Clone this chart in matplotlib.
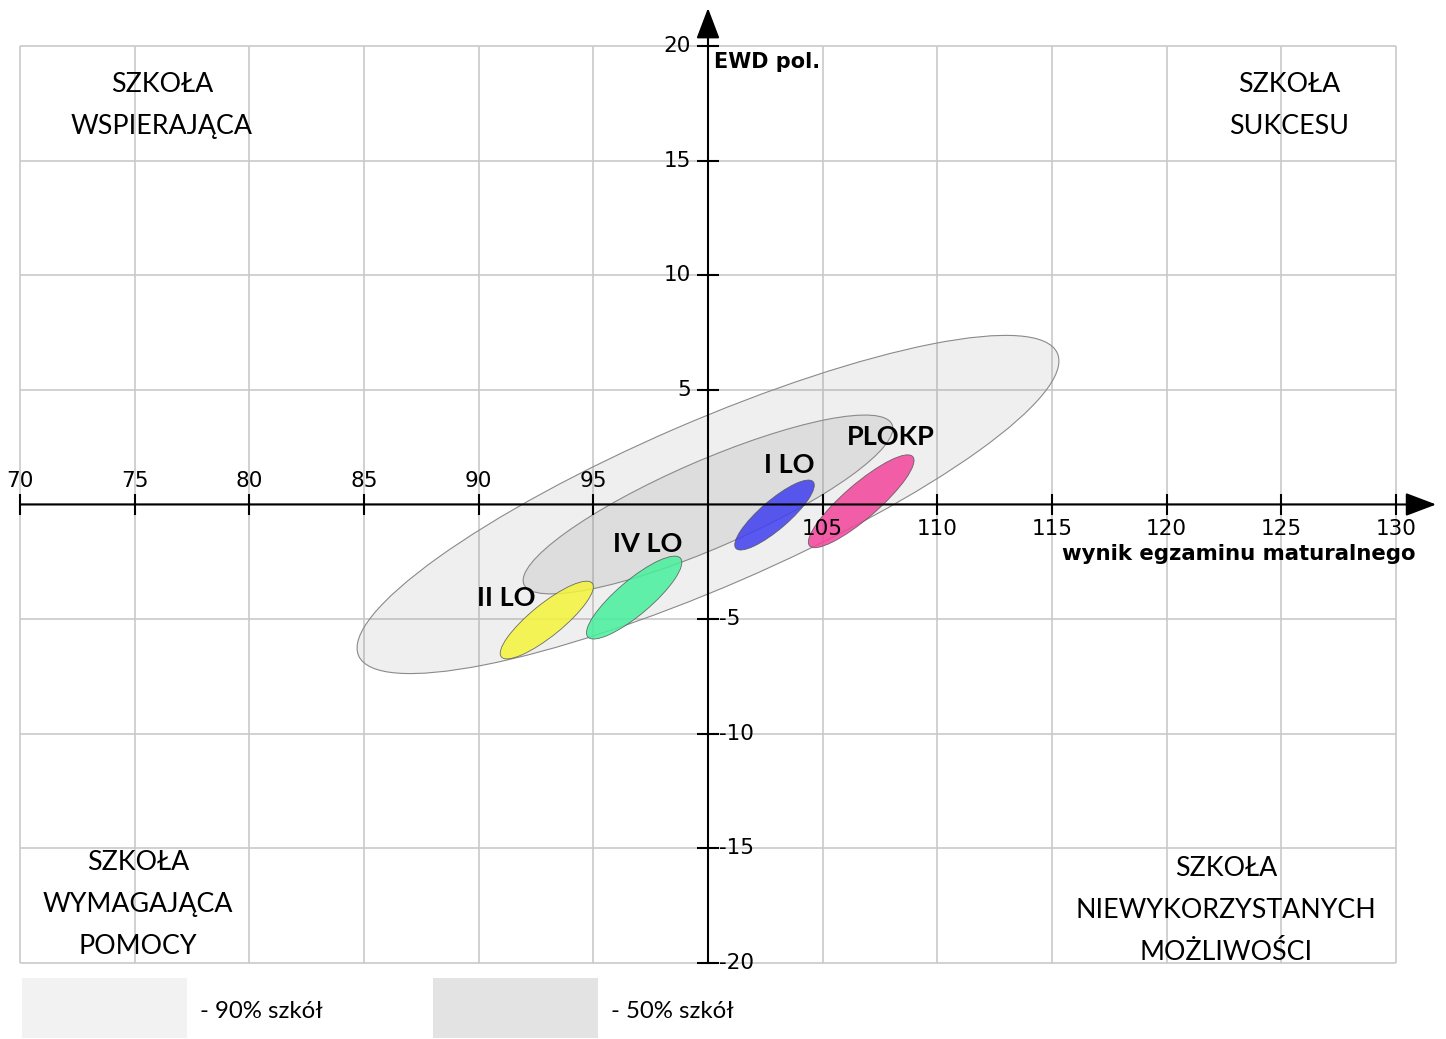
import matplotlib
matplotlib.use("Agg")
import matplotlib.pyplot as plt
from matplotlib.patches import Ellipse, Rectangle

# axis ticks
X_TICKS = [70, 75, 80, 85, 90, 95, 100, 105, 110, 115, 120, 125, 130]
Y_TICKS = [-20, -15, -10, -5, 0, 5, 10, 15, 20]

# reference ellipses (centre at 100, 0): 90% and 50% of schools
REF_LABELS = ["- 90% szkół", "- 50% szkół"]
REF_WIDTH = [33.2, 17.5]
REF_HEIGHT = [7.2, 3.8]
REF_ANGLE = [23.4, 23.5]

# schools
SCHOOLS = ["II LO", "IV LO", "I LO", "PLOKP"]
SCHOOL_X = [92.97, 96.78, 102.9, 106.68]
SCHOOL_Y = [-5.04, -4.06, -0.46, 0.14]
SCHOOL_LEN = [5.1, 5.3, 4.45, 5.95]
SCHOOL_THICK = [1.4, 1.5, 1.25, 1.5]
SCHOOL_ANGLE = [39.0, 40.3, 40.7, 40.8]
SCHOOL_COLORS = ["#f4f43a", "#47f09c", "#3f3ff0", "#f2449a"]
LABEL_X = [91.2, 97.36, 103.55, 107.95]
LABEL_Y = [-4.08, -1.72, 1.72, 2.94]

QUADRANTS = [
    "SZKOŁA\nWSPIERAJĄCA",
    "SZKOŁA\nSUKCESU",
    "SZKOŁA\nWYMAGAJĄCA\nPOMOCY",
    "SZKOŁA\nNIEWYKORZYSTANYCH\nMOŻLIWOŚCI",
]
QUAD_X = [76.19, 125.34, 75.15, 122.59]
QUAD_Y = [17.42, 17.42, -17.45, -17.7]

fig = plt.figure(figsize=(14.46, 10.39), dpi=100)
ax = fig.add_axes([0, 0, 1, 1])
ax.set_xlim(69.128, 132.18)
ax.set_ylim(-23.31, 22.0)
ax.axis("off")

# grid
ax.vlines(X_TICKS, Y_TICKS[0], Y_TICKS[-1], color="#c9c9c9", lw=1.2, zorder=0)
ax.hlines(Y_TICKS, X_TICKS[0], X_TICKS[-1], color="#c9c9c9", lw=1.2, zorder=0)

# reference ellipses
ref_face = [(0.5, 0.5, 0.5, 0.12), (0.5, 0.5, 0.5, 0.16)]
for w, h, a, fc in zip(REF_WIDTH, REF_HEIGHT, REF_ANGLE, ref_face):
    ax.add_patch(Ellipse((100, 0), w, h, angle=a, facecolor=fc,
                         edgecolor="#8a8a8a", lw=0.8, zorder=1))

# axes with arrows
arrow = dict(arrowstyle="-|>,head_length=0.95,head_width=0.36", lw=1.5,
             color="black", shrinkA=0, shrinkB=0, mutation_scale=20)
ax.annotate("", xy=(131.75, 0), xytext=(X_TICKS[0], 0), arrowprops=arrow, zorder=3)
ax.annotate("", xy=(100, 21.65), xytext=(100, Y_TICKS[0]), arrowprops=arrow, zorder=3)

xt = [v for v in X_TICKS if v != 100]
yt = [v for v in Y_TICKS if v != 0]
ax.vlines(xt, -0.44, 0.44, color="black", lw=1.5, zorder=3)
ax.hlines(yt, 99.5, 100.5, color="black", lw=1.5, zorder=3)
for v in xt:
    ax.text(v, 1.02 if v < 100 else -1.07, str(v), ha="center", va="center",
            fontsize=15.5, family="DejaVu Sans", zorder=4)
for v in yt:
    if v > 0:
        ax.text(99.24, v, str(v), ha="right", va="center", fontsize=15.5,
                family="DejaVu Sans", zorder=4)
    else:
        ax.text(100.5, v, str(v), ha="left", va="center", fontsize=15.5,
                family="DejaVu Sans", zorder=4)

ax.text(100.24, 19.3, "EWD pol.", ha="left", va="center", fontsize=15,
        fontweight="bold", family="DejaVu Sans", zorder=4)
ax.text(115.44, -2.16, "wynik egzaminu maturalnego", ha="left", va="center",
        fontsize=15.3, fontweight="bold", family="DejaVu Sans", zorder=4)

# schools
for x, y, l, t, a, c in zip(SCHOOL_X, SCHOOL_Y, SCHOOL_LEN, SCHOOL_THICK,
                            SCHOOL_ANGLE, SCHOOL_COLORS):
    ax.add_patch(Ellipse((x, y), l, t, angle=a, facecolor=c, alpha=0.85,
                         edgecolor="#555555", lw=0.6, zorder=2))
for name, x, y in zip(SCHOOLS, LABEL_X, LABEL_Y):
    ax.text(x, y, name, ha="center", va="center", fontsize=19.5,
            fontweight="bold", family="Lato", zorder=5)

# quadrant captions
for txt, x, y in zip(QUADRANTS, QUAD_X, QUAD_Y):
    ax.text(x, y, txt, ha="center", va="center", fontsize=19.3, family="Lato",
            linespacing=1.85, multialignment="center", zorder=4)

# legend boxes
box_x = [22 / 1446, 433 / 1446]
box_face = ["#f2f2f2", "#e3e3e3"]
for bx, fc, lab in zip(box_x, box_face, REF_LABELS):
    fig.patches.append(Rectangle((bx, 1 / 1039), 165 / 1446, 60 / 1039,
                                 transform=fig.transFigure, facecolor=fc,
                                 edgecolor="none"))
    fig.text(bx + 178 / 1446, 1 - 1011 / 1039, lab, ha="left", va="center",
             fontsize=17.3, family="Lato")

fig.savefig("out.png", dpi=100)
